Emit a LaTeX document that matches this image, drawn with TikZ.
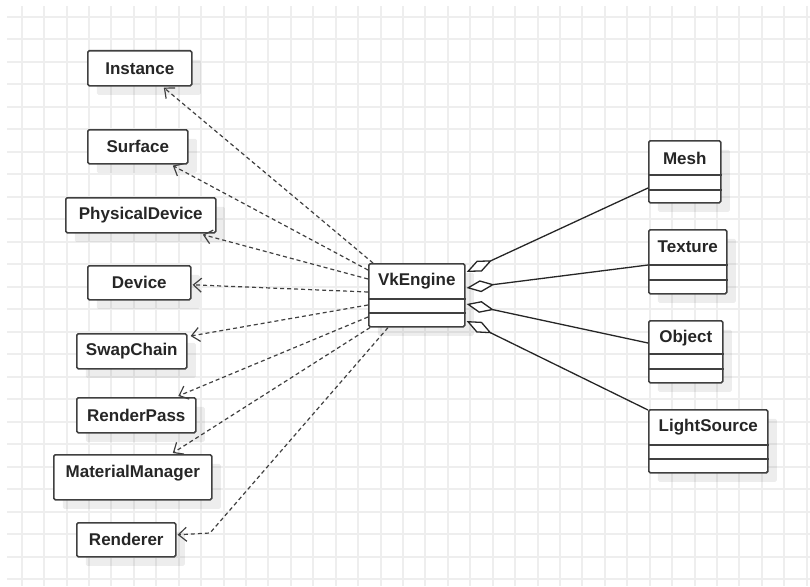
\documentclass[tikz,border=0pt]{standalone}
\usepackage{fontspec}
\setmainfont{Liberation Sans}
\usetikzlibrary{arrows.meta,calc,shadows}

\definecolor{gridc}{HTML}{EEEEEE}
\definecolor{edge}{HTML}{404040}
\definecolor{ink}{HTML}{262626}

\tikzset{
  gridline/.style={draw=gridc, line width=2pt},
  umlbox/.style={draw=edge, line width=1.6pt, fill=white, rounded corners=1.5pt,
    anchor=north west, inner sep=0pt, text=ink, font=\bfseries\fontsize{17}{20}\selectfont,
    drop shadow={shadow xshift=9pt, shadow yshift=-9pt, fill=black, opacity=0.07}},
  umltitle/.style={inner sep=0pt, text=ink, font=\bfseries\fontsize{17}{20}\selectfont},
  sep/.style={draw=edge, line width=1.6pt},
  dep/.style={draw=edge, line width=1.2pt, dash pattern=on 4pt off 3pt,
    -{Straight Barb[length=8pt,width=14pt,line width=1.2pt]}},
  agg/.style={draw=black!85, line width=1.3pt,
    {Diamond[length=28pt,width=12pt,fill=white,line width=1.3pt]}-}
}

\begin{document}
\begin{tikzpicture}[x=1pt,y=-1pt]
  \useasboundingbox (0,0) rectangle (810,586);

  % background grid, lines snapped to whole units
  \foreach \i in {0,...,35} {
    \pgfmathsetmacro{\gx}{round(21.7+22.43*\i)}
    \draw[gridline] (\gx,6) -- (\gx,586);
  }
  \foreach \j in {0,...,25} {
    \pgfmathsetmacro{\gy}{round(17+22.48*\j)}
    \draw[gridline] (7,\gy) -- (810,\gy);
  }

  % classes on the left
  \node[umlbox, minimum width=104pt, minimum height=35pt] (inst) at (87,50) {Instance};
  \node[umlbox, minimum width=100pt, minimum height=34pt] (surf) at (87,129) {Surface};
  \node[umlbox, minimum width=150pt, minimum height=35pt] (phys) at (65,197) {PhysicalDevice};
  \node[umlbox, minimum width=103pt, minimum height=34pt] (dev) at (87,265) {Device};
  \node[umlbox, minimum width=110pt, minimum height=35pt] (swap) at (76,333) {SwapChain};
  \node[umlbox, minimum width=119pt, minimum height=35pt] (rpass) at (76,397) {RenderPass};
  \node[umlbox, minimum width=158pt, minimum height=45pt] (matm) at (53,454) {};
  \node[umltitle] (matm-t) at ($(matm.north)+(0,19)$) {MaterialManager};
  \node[umlbox, minimum width=99pt, minimum height=34pt] (rend) at (76,522) {Renderer};

  % engine class
  \node[umlbox, minimum width=96pt, minimum height=63pt] (vk) at (368,263) {};
  \node[umltitle] (vk-t) at ($(vk.north)+(0,18)$) {VkEngine};
  \draw[sep] ($(vk.north west)+(0,36)$) -- ($(vk.north east)+(0,36)$);
  \draw[sep] ($(vk.north west)+(0,50)$) -- ($(vk.north east)+(0,50)$);

  % classes on the right
  \node[umlbox, minimum width=72pt, minimum height=62pt] (mesh) at (648,140) {};
  \node[umltitle] (mesh-t) at ($(mesh.north)+(0,18)$) {Mesh};
  \draw[sep] ($(mesh.north west)+(0,35)$) -- ($(mesh.north east)+(0,35)$);
  \draw[sep] ($(mesh.north west)+(0,50)$) -- ($(mesh.north east)+(0,50)$);

  \node[umlbox, minimum width=78pt, minimum height=64pt] (tex) at (648,229) {};
  \node[umltitle] (tex-t) at ($(tex.north)+(0,18)$) {Texture};
  \draw[sep] ($(tex.north west)+(0,36)$) -- ($(tex.north east)+(0,36)$);
  \draw[sep] ($(tex.north west)+(0,51)$) -- ($(tex.north east)+(0,51)$);

  \node[umlbox, minimum width=74pt, minimum height=62pt] (obj) at (648,320) {};
  \node[umltitle] (obj-t) at ($(obj.north)+(0,18)$) {Object};
  \draw[sep] ($(obj.north west)+(0,34)$) -- ($(obj.north east)+(0,34)$);
  \draw[sep] ($(obj.north west)+(0,49)$) -- ($(obj.north east)+(0,49)$);

  \node[umlbox, minimum width=119pt, minimum height=63pt] (light) at (648,409) {};
  \node[umltitle] (light-t) at ($(light.north)+(0,18)$) {LightSource};
  \draw[sep] ($(light.north west)+(0,36)$) -- ($(light.north east)+(0,36)$);
  \draw[sep] ($(light.north west)+(0,50)$) -- ($(light.north east)+(0,50)$);

  % dependencies
  \draw[dep] ($(vk.north west)+(5,0)$) -- ($(inst.south)+(24,1)$);
  \draw[dep] ($(vk.north west)+(0,7)$) -- ($(surf.south)+(35,1)$);
  \draw[dep] ($(vk.north west)+(0,16)$) -- ($(phys.south)+(62,1)$);
  \draw[dep] ($(vk.north west)+(0,29)$) -- ($(dev.east)+(1,2)$);
  \draw[dep] ($(vk.north west)+(0,42)$) -- ($(swap.north east)+(3,3)$);
  \draw[dep] ($(vk.north west)+(0,54)$) -- ($(rpass.north)+(42,-1)$);
  \draw[dep] ($(vk.south west)+(2,0)$) -- ($(matm.north)+(40,-1)$);
  \coordinate (bend) at (210,533);
  \draw[dep] ($(vk.south west)+(20,0)$) -- (bend) -- ($(rend.east)+(1,-5)$);

  % aggregations
  \draw[agg] ($(vk.north east)+(1,9)$) -- ($(mesh.north west)+(0,48)$);
  \draw[agg] ($(vk.north east)+(1,25)$) -- ($(tex.north west)+(0,36)$);
  \draw[agg] ($(vk.north east)+(1,41)$) -- ($(obj.north west)+(0,23)$);
  \draw[agg] ($(vk.north east)+(1,58)$) -- ($(light.north west)+(0,1)$);
\end{tikzpicture}
\end{document}
